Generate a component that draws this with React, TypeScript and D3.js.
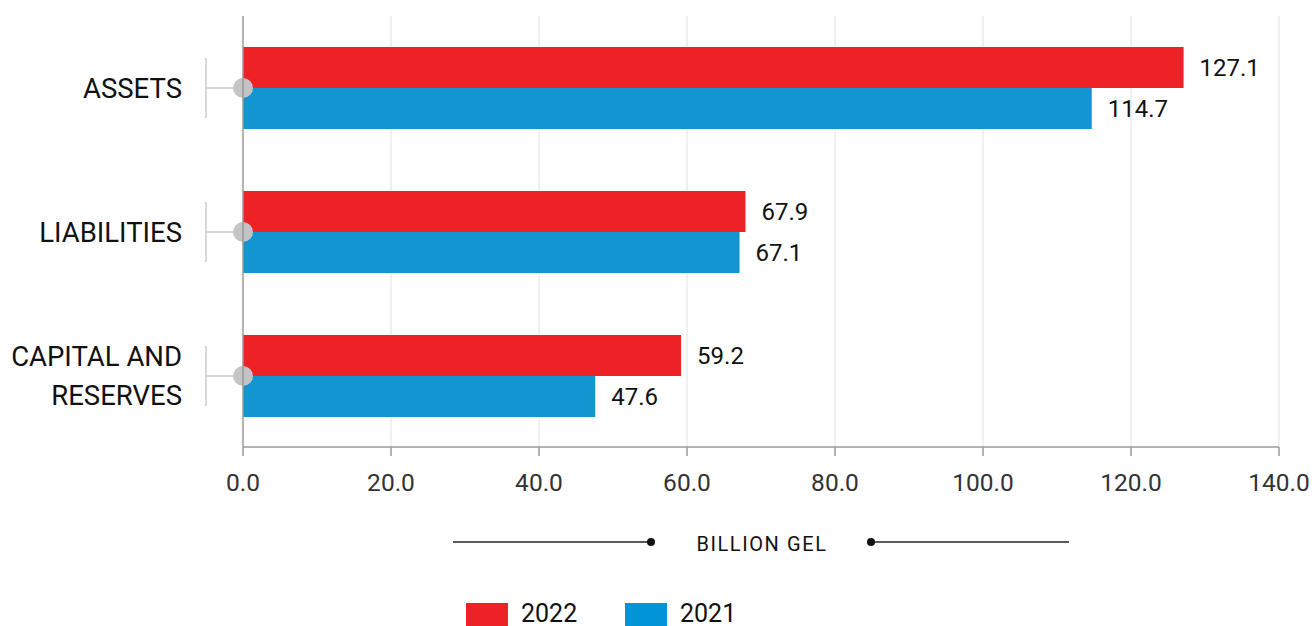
import React from "react";
import * as d3 from "d3";

const categories = ["ASSETS", "LIABILITIES", "CAPITAL AND RESERVES"];
const categoryLines = [["ASSETS"], ["LIABILITIES"], ["CAPITAL AND", "RESERVES"]];
const series2022 = [127.1, 67.9, 59.2];
const series2021 = [114.7, 67.1, 47.6];
const xTicks = [0, 20, 40, 60, 80, 100, 120, 140];
const seriesNames = ["2022", "2021"];

const W = 1314;
const H = 626;
const RED = "#EE2127";
const BLUE = "#1395D1";
const LEGEND_BLUE = "#0093D6";
const FONT = "Roboto, 'Noto Sans', sans-serif";

export default function App() {
  const x = d3.scaleLinear().domain([0, 140]).range([243, 1279]);
  const y = d3.scaleBand<string>().domain(categories).range([16, 448]).paddingInner(0.43).paddingOuter(0.215);
  const bh = 41;
  const axisY = 447;
  const legendX = d3.scaleOrdinal<string, number>().domain(seriesNames).range([466, 625]);
  const legendColor = d3.scaleOrdinal<string, string>().domain(seriesNames).range([RED, LEGEND_BLUE]);

  return (
    <svg width={W} height={H} style={{ position: "absolute", left: 0, top: 0, background: "#fff" }}>
      {xTicks.slice(1).map((t) => (
        <line key={"g" + t} x1={x(t)} x2={x(t)} y1={16} y2={axisY} stroke="#e2e2e2" strokeWidth={1} />
      ))}
      {categories.map((c, i) => {
        const cy = y(c)! + y.bandwidth() / 2;
        return (
          <g key={c}>
            <rect x={x(0)} y={cy - bh} width={x(series2022[i]) - x(0)} height={bh} fill={RED} />
            <rect x={x(0)} y={cy} width={x(series2021[i]) - x(0)} height={bh} fill={BLUE} />
            <text x={x(series2022[i]) + 16} y={cy - bh / 2} dominantBaseline="central" fontFamily={FONT} fontSize={24} fill="#111">
              {series2022[i].toFixed(1)}
            </text>
            <text x={x(series2021[i]) + 16} y={cy + bh / 2} dominantBaseline="central" fontFamily={FONT} fontSize={24} fill="#111">
              {series2021[i].toFixed(1)}
            </text>
            <line x1={206} x2={206} y1={cy - 30} y2={cy + 30} stroke="#c8c8c8" strokeWidth={1.5} />
            <line x1={206} x2={x(0)} y1={cy} y2={cy} stroke="#c8c8c8" strokeWidth={1.5} />
            <circle cx={x(0)} cy={cy} r={10} fill="#c4c4c6" />
            {categoryLines[i].map((ln, k) => {
              const n = categoryLines[i].length;
              const ly = cy + (k - (n - 1) / 2) * 39;
              return (
                <text key={k} x={182} y={ly} textAnchor="end" dominantBaseline="central" fontFamily={FONT} fontSize={27.5} fill="#111">
                  {ln}
                </text>
              );
            })}
          </g>
        );
      })}
      <line x1={x(0)} x2={x(0)} y1={16} y2={axisY} stroke="#999" strokeWidth={1.5} />
      <line x1={x(0)} x2={x(140)} y1={axisY} y2={axisY} stroke="#999" strokeWidth={1.5} />
      {xTicks.map((t) => (
        <g key={"t" + t}>
          <line x1={x(t)} x2={x(t)} y1={axisY} y2={axisY + 9} stroke="#999" strokeWidth={1.5} />
          <text x={x(t)} y={482} textAnchor="middle" dominantBaseline="central" fontFamily={FONT} fontSize={24.5} fill="#333">
            {t.toFixed(1)}
          </text>
        </g>
      ))}
      <line x1={453} x2={651} y1={542} y2={542} stroke="#222" strokeWidth={1.3} />
      <circle cx={651} cy={542} r={4} fill="#111" />
      <line x1={871} x2={1069} y1={542} y2={542} stroke="#222" strokeWidth={1.3} />
      <circle cx={871} cy={542} r={4} fill="#111" />
      <text x={762} y={544} textAnchor="middle" dominantBaseline="central" fontFamily={FONT} fontSize={20} letterSpacing={1.6} fill="#111">
        BILLION GEL
      </text>
      {seriesNames.map((s) => (
        <g key={s}>
          <rect x={legendX(s)} y={603} width={42} height={24} fill={legendColor(s)} />
          <text x={legendX(s) + 55} y={613} dominantBaseline="central" fontFamily={FONT} fontSize={25} fill="#111">{s}</text>
        </g>
      ))}
    </svg>
  );
}
